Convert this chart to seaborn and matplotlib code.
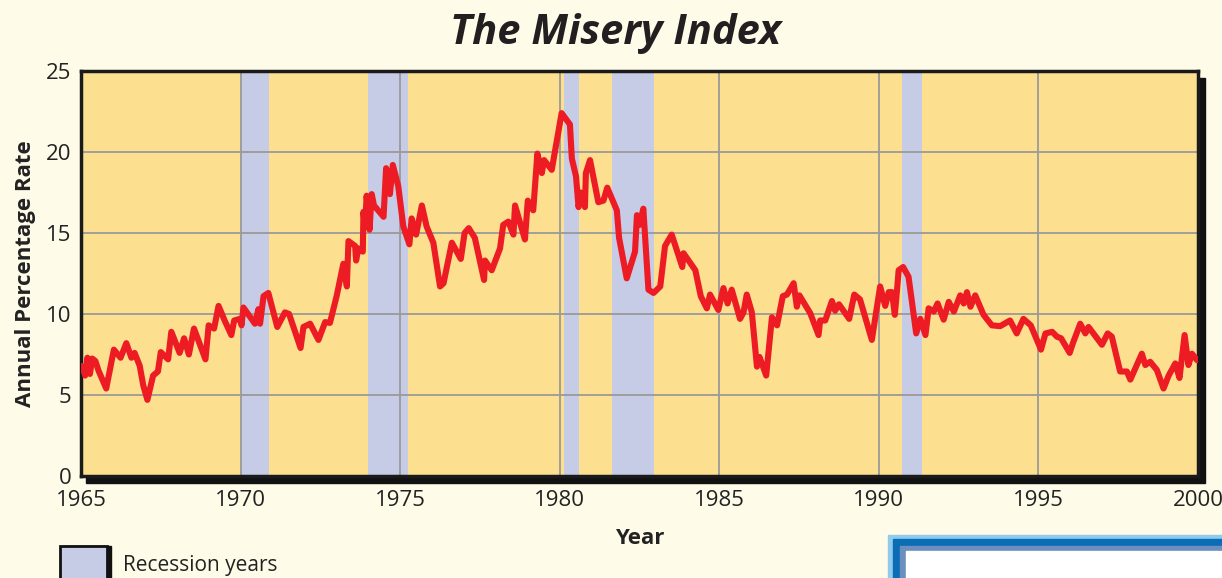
import seaborn as sns
import matplotlib.pyplot as plt
from matplotlib.patches import Rectangle

# misery index (inflation + unemployment)
years = [1965.00, 1965.06, 1965.13, 1965.20, 1965.28, 1965.35, 1965.45, 1965.55, 1965.79, 1966.03,
         1966.24, 1966.42, 1966.58, 1966.68, 1966.84, 1966.95, 1967.08, 1967.26, 1967.41, 1967.50,
         1967.73, 1967.83, 1968.09, 1968.23, 1968.38, 1968.54, 1968.90, 1969.00, 1969.17, 1969.31,
         1969.50, 1969.71, 1969.80, 1969.98, 1970.03, 1970.09, 1970.45, 1970.56, 1970.61, 1970.72,
         1970.87, 1971.15, 1971.39, 1971.52, 1971.88, 1971.97, 1972.18, 1972.44, 1972.65, 1972.80,
         1973.01, 1973.22, 1973.33, 1973.38, 1973.59, 1973.62, 1973.69, 1973.83, 1973.85, 1973.90,
         1973.95, 1974.04, 1974.11, 1974.18, 1974.48, 1974.56, 1974.68, 1974.77, 1974.94, 1975.10,
         1975.29, 1975.36, 1975.50, 1975.68, 1975.83, 1976.04, 1976.25, 1976.36, 1976.62, 1976.90,
         1977.02, 1977.15, 1977.34, 1977.63, 1977.66, 1977.87, 1978.13, 1978.23, 1978.39, 1978.55,
         1978.60, 1978.91, 1979.00, 1979.17, 1979.30, 1979.44, 1979.51, 1979.75, 1980.06, 1980.32,
         1980.38, 1980.51, 1980.59, 1980.66, 1980.79, 1980.82, 1980.95, 1981.21, 1981.37, 1981.49,
         1981.79, 1981.86, 1982.10, 1982.36, 1982.42, 1982.50, 1982.62, 1982.78, 1982.94, 1983.15,
         1983.30, 1983.51, 1983.84, 1983.88, 1984.25, 1984.42, 1984.61, 1984.71, 1984.97, 1985.13,
         1985.26, 1985.39, 1985.65, 1985.76, 1985.86, 1986.02, 1986.18, 1986.26, 1986.47, 1986.65,
         1986.81, 1986.99, 1987.12, 1987.33, 1987.43, 1987.51, 1987.85, 1988.11, 1988.16, 1988.32,
         1988.53, 1988.63, 1988.75, 1989.07, 1989.23, 1989.41, 1989.78, 1990.04, 1990.20, 1990.31,
         1990.41, 1990.50, 1990.57, 1990.62, 1990.76, 1990.93, 1991.17, 1991.30, 1991.46, 1991.56,
         1991.72, 1991.84, 1992.03, 1992.19, 1992.35, 1992.55, 1992.66, 1992.76, 1992.87, 1993.02,
         1993.28, 1993.54, 1993.80, 1994.11, 1994.32, 1994.53, 1994.76, 1995.08, 1995.22, 1995.43,
         1995.58, 1995.71, 1995.98, 1996.08, 1996.31, 1996.47, 1996.57, 1996.99, 1997.17, 1997.30,
         1997.56, 1997.77, 1997.88, 1998.24, 1998.35, 1998.50, 1998.71, 1998.92, 1999.08, 1999.29,
         1999.42, 1999.58, 1999.70, 1999.81, 1999.97]
misery = [6.8, 6.65, 6.2, 7.3, 6.3, 7.25, 7.1, 6.5, 5.4, 7.8,
          7.3, 8.2, 7.3, 7.6, 6.8, 5.6, 4.7, 6.2, 6.45, 7.65,
          7.2, 8.9, 7.6, 8.5, 7.5, 9.1, 7.2, 9.3, 9.1, 10.5,
          9.6, 8.7, 9.6, 9.7, 9.3, 10.4, 9.4, 10.3, 9.4, 11.1,
          11.3, 9.2, 10.1, 10.0, 7.9, 9.2, 9.4, 8.4, 9.5, 9.45,
          11.1, 13.1, 11.7, 14.5, 14.2, 13.3, 14.05, 13.85, 16.3, 15.4,
          17.3, 15.2, 17.4, 16.7, 16.0, 19.0, 17.4, 19.2, 17.9, 15.4,
          14.3, 15.9, 14.9, 16.7, 15.4, 14.4, 11.7, 11.9, 14.4, 13.4,
          15.0, 15.3, 14.7, 12.1, 13.3, 12.7, 14.05, 15.5, 15.7, 14.9,
          16.7, 14.6, 17.0, 16.4, 19.9, 18.7, 19.5, 18.9, 22.4, 21.7,
          19.6, 18.5, 16.6, 17.5, 16.6, 18.7, 19.5, 16.9, 17.0, 17.8,
          16.4, 14.7, 12.2, 13.85, 16.1, 15.5, 16.5, 11.5, 11.3, 11.7,
          14.2, 14.9, 12.9, 13.75, 12.7, 11.1, 10.35, 11.2, 10.25, 11.6,
          10.65, 11.5, 9.7, 10.1, 11.2, 10.1, 6.75, 7.35, 6.2, 9.8,
          9.3, 11.1, 11.2, 11.9, 10.45, 11.15, 10.05, 8.7, 9.6, 9.6,
          10.8, 10.2, 10.6, 9.7, 11.2, 10.9, 8.4, 11.7, 10.5, 11.35,
          11.35, 9.95, 11.5, 12.7, 12.9, 12.3, 8.8, 9.7, 8.7, 10.35,
          10.15, 10.65, 9.65, 10.75, 10.15, 11.15, 10.65, 11.35, 10.45, 11.15,
          9.95, 9.3, 9.25, 9.6, 8.8, 9.7, 9.3, 7.8, 8.8, 8.9,
          8.6, 8.5, 7.6, 8.2, 9.4, 8.8, 9.2, 8.1, 8.8, 8.6,
          6.45, 6.45, 5.95, 7.55, 6.85, 7.05, 6.55, 5.4, 6.2, 6.95,
          6.05, 8.7, 6.85, 7.55, 7.15]

recession_start = [1970.0, 1974.0, 1980.14, 1981.65, 1990.74]
recession_end = [1970.9, 1975.25, 1980.6, 1982.96, 1991.36]

x_ticks = [1965, 1970, 1975, 1980, 1985, 1990, 1995, 2000]
y_ticks = [0, 5, 10, 15, 20, 25]

W, H = 1222, 578
bg = '#FEFBE8'
plot_bg = '#FDE08F'
band = '#C7CCE6'

sns.set_style('white')
plt.rcParams['font.family'] = ['Open Sans', 'DejaVu Sans']

fig = plt.figure(figsize=(12.22, 5.78), dpi=100, facecolor=bg)

# drop shadow behind the plot frame
fig.add_artist(Rectangle((86 / W, 1 - 483 / H), (1205 - 86) / W, (483 - 78) / H,
                         transform=fig.transFigure, color='#111111', zorder=-1))

ax = fig.add_axes([81 / W, 1 - 476 / H, (1198 - 81) / W, (476 - 71) / H])
ax.set_facecolor(plot_bg)

for s, e in zip(recession_start, recession_end):
    ax.axvspan(s, e, color=band, lw=0, zorder=0)

ax.set_xticks(x_ticks)
ax.set_yticks(y_ticks)
ax.grid(True, color='#9A9A9A', lw=1.3, zorder=1)
ax.set_axisbelow(True)

sns.lineplot(x=years, y=misery, ax=ax, color='#ED1C24', lw=4.4,
             estimator=None, zorder=3, solid_joinstyle='round')

ax.set_xlim(1965, 2000)
ax.set_ylim(0, 25)
ax.tick_params(length=0, labelsize=16, labelcolor='#222222')
ax.tick_params(axis='x', pad=10)
ax.tick_params(axis='y', pad=7)
for sp in ax.spines.values():
    sp.set_visible(True)
    sp.set_color('#1A1A1A')
    sp.set_linewidth(2.5)

ax.set_xlabel('Year', fontsize=16, fontweight='bold', color='#222222', labelpad=12)
ax.set_ylabel('Annual Percentage Rate', fontsize=16, fontweight='bold',
              color='#222222', labelpad=7)

fig.text(0.504, 0.942, 'The Misery Index', ha='center', va='center',
         fontsize=30, fontweight='bold', style='italic', color='#231F20')

# legend swatch
fig.add_artist(Rectangle((64 / W, 1 - 582 / H), 47 / W, 36 / H,
                         transform=fig.transFigure, color='#111111', zorder=2))
fig.add_artist(Rectangle((60 / W, 1 - 582 / H), 47 / W, 36 / H,
                         transform=fig.transFigure, facecolor=band,
                         edgecolor='#111111', lw=2, zorder=3))
fig.text(123 / W, 1 - 566 / H, 'Recession years', fontsize=15, color='#222222',
         va='center', ha='left')

# blue panel peeking in at the bottom right
fig.add_artist(Rectangle((888 / W, 0), (W - 888) / W, (578 - 535) / H,
                         transform=fig.transFigure, color='#8FCBEA', zorder=2))
fig.add_artist(Rectangle((893 / W, 0), (W - 893) / W, (578 - 539) / H,
                         transform=fig.transFigure, color='#0A6DB6', zorder=3))
fig.add_artist(Rectangle((900 / W, 0), (W - 900) / W, (578 - 546) / H,
                         transform=fig.transFigure, color='#6C8FBF', zorder=4))
fig.add_artist(Rectangle((906 / W, 0), (W - 906) / W, (578 - 551) / H,
                         transform=fig.transFigure, color='white', zorder=5))

fig.savefig('out.png', dpi=100, facecolor=bg)
